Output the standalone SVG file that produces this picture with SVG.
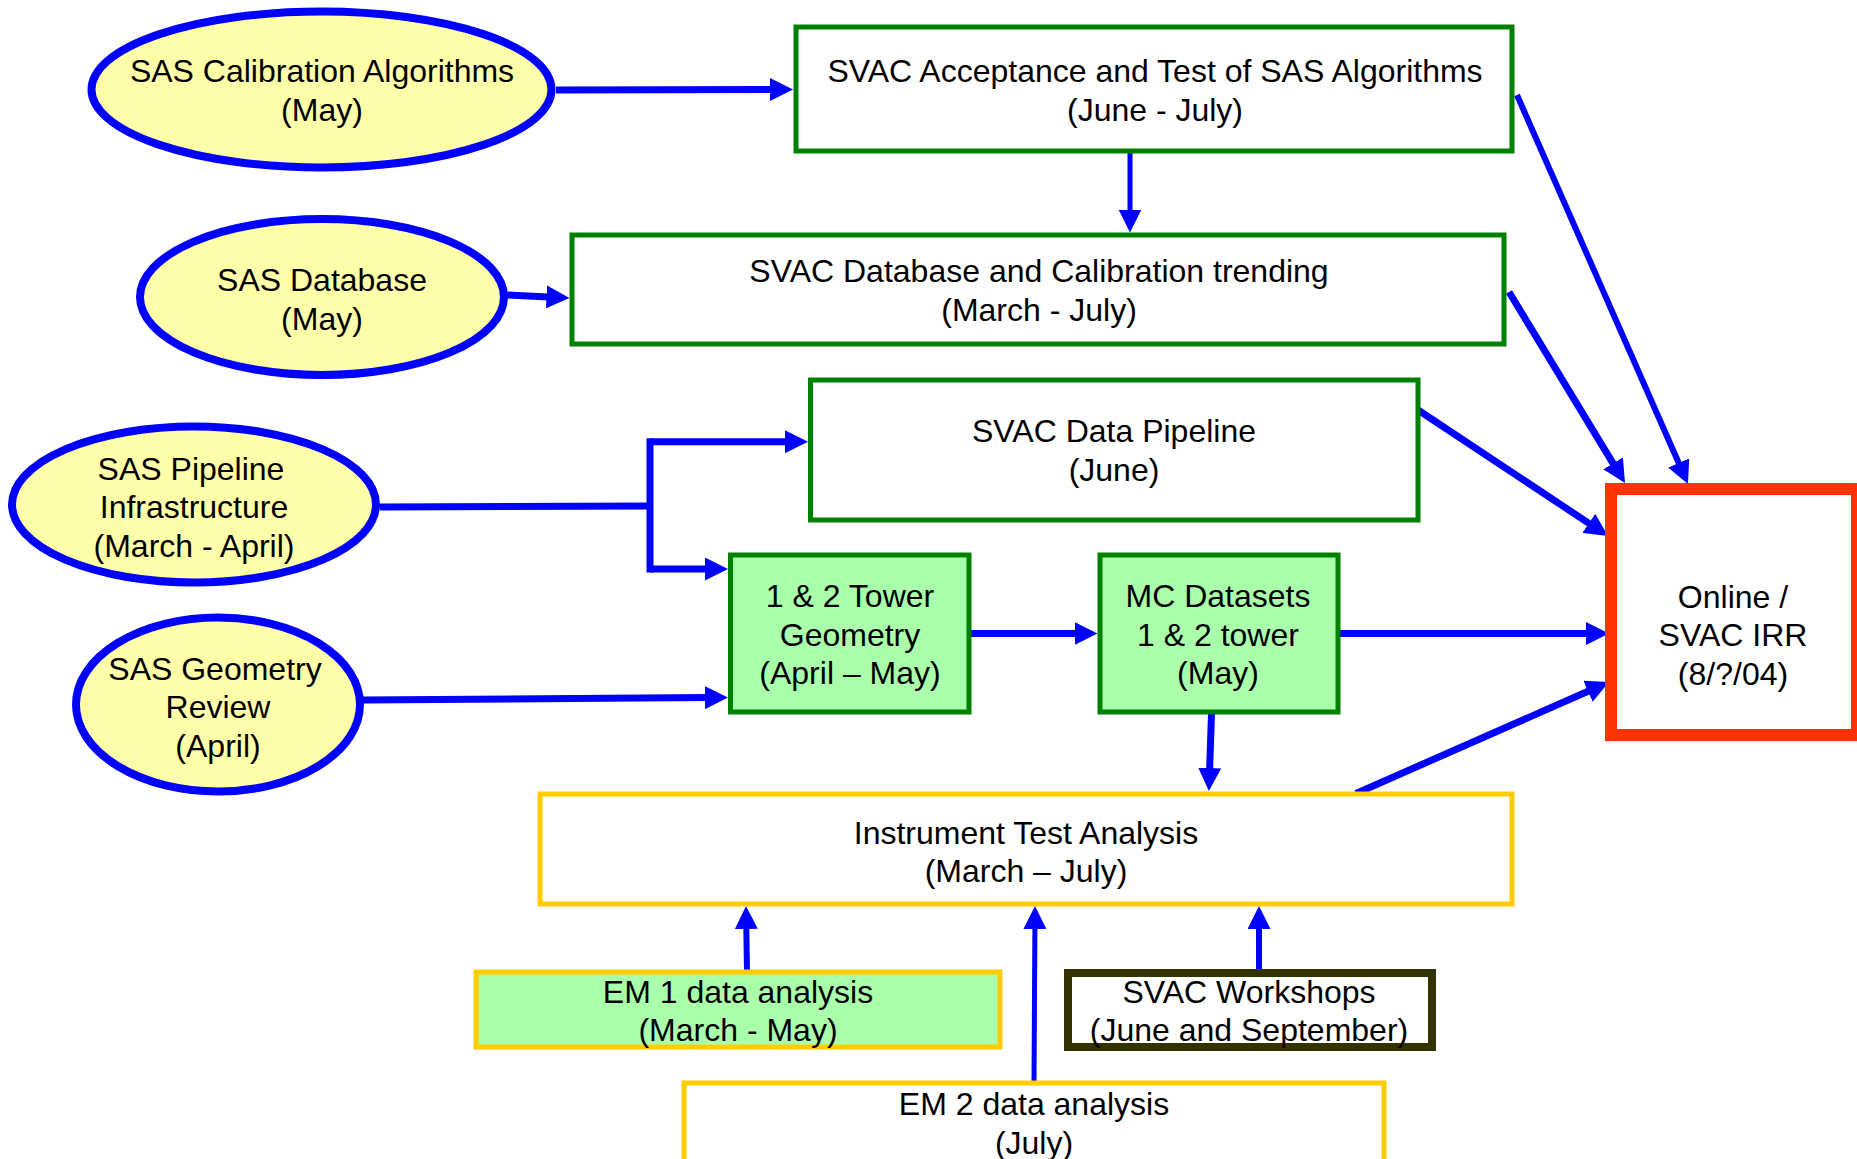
<svg xmlns="http://www.w3.org/2000/svg" width="1857" height="1159" viewBox="0 0 1857 1159">
<defs>
<style>
text{font-family:"Liberation Sans",Arial,sans-serif;font-size:32px;fill:#000;text-anchor:middle}
.ell{fill:#FFFFAA;stroke:#0000FF;stroke-width:8}
.g{fill:#FFFFFF;stroke:#008000;stroke-width:5}
.gf{fill:#AAFFAA;stroke:#008000;stroke-width:5}
.y{fill:#FFFFFF;stroke:#FFCC00;stroke-width:5}
.yf{fill:#AAFFAA;stroke:#FFCC00;stroke-width:5}
.dk{fill:#FFFFFF;stroke:#333300;stroke-width:8}
.red{fill:#FFFFFF;stroke:#FF3300;stroke-width:12}
.c{fill:none;stroke:#0000FF;stroke-width:7}
.t{stroke-width:5}
.m{stroke-width:6}
</style>
<marker id="ah" markerUnits="userSpaceOnUse" markerWidth="23" markerHeight="23" refX="2" refY="11.5" orient="auto">
<path d="M0,0 L23,11.5 L0,23 z" fill="#0000FF"/>
</marker>
</defs>
<rect width="1857" height="1159" fill="#FFFFFF"/>

<g id="connectors">
<path class="c" d="M556 90 L772 89.5" marker-end="url(#ah)"/>
<path class="c t" d="M1130 153 L1130 211.5" marker-end="url(#ah)"/>
<path class="c" d="M507 295 L548.5 297" marker-end="url(#ah)"/>
<path class="c" d="M380 507 L650 506"/>
<path class="c" d="M650 441.7 L650 569" stroke-linecap="square"/>
<path class="c" d="M650 441.7 L787 441.7" marker-end="url(#ah)"/>
<path class="c" d="M650 569 L707 569" marker-end="url(#ah)"/>
<path class="c" d="M363 700 L707 697.6" marker-end="url(#ah)"/>
<path class="c" d="M971 633.5 L1076.5 633.5" marker-end="url(#ah)"/>
<path class="c" d="M1338 633.5 L1588 633.5" marker-end="url(#ah)"/>
<path class="c" d="M1211.5 714 L1209.6 770" marker-end="url(#ah)"/>
<path class="c" d="M1356 793.5 L1589.8 690.5" marker-end="url(#ah)"/>
<path class="c" d="M1418 410 L1590.5 524.4" marker-end="url(#ah)"/>
<path class="c" d="M1509 292 L1614.1 465.1" marker-end="url(#ah)"/>
<path class="c m" d="M1517 95 L1679.5 464.8" marker-end="url(#ah)"/>
<path class="c m" d="M747 972 L746.3 927" marker-end="url(#ah)"/>
<path class="c t" d="M1034 1083 L1034.9 927" marker-end="url(#ah)"/>
<path class="c m" d="M1259 972 L1259 927" marker-end="url(#ah)"/>
</g>

<g id="sas-calibration">
<ellipse class="ell" cx="321.5" cy="89.5" rx="230" ry="78"/>
<text x="322" y="82">SAS Calibration Algorithms</text>
<text x="322" y="121">(May)</text>
</g>
<g id="sas-database">
<ellipse class="ell" cx="322" cy="297" rx="182" ry="78"/>
<text x="322" y="290.5">SAS Database</text>
<text x="322" y="329.5">(May)</text>
</g>
<g id="sas-pipeline">
<ellipse class="ell" cx="194" cy="504.5" rx="182" ry="78"/>
<text x="191" y="480">SAS Pipeline</text>
<text x="194" y="518">Infrastructure</text>
<text x="194" y="557">(March - April)</text>
</g>
<g id="sas-geometry">
<ellipse class="ell" cx="218" cy="704.5" rx="142" ry="87"/>
<text x="215" y="680">SAS Geometry</text>
<text x="218" y="718">Review</text>
<text x="218" y="757">(April)</text>
</g>

<g id="svac-acceptance">
<rect class="g" x="796" y="27" width="716" height="124"/>
<text x="1155" y="82">SVAC Acceptance and Test of SAS Algorithms</text>
<text x="1155" y="121">(June - July)</text>
</g>
<g id="svac-database">
<rect class="g" x="572" y="235" width="932" height="109"/>
<text x="1039" y="282">SVAC Database and Calibration trending</text>
<text x="1039" y="321">(March - July)</text>
</g>
<g id="svac-pipeline">
<rect class="g" x="810.5" y="380" width="607.5" height="140"/>
<text x="1114" y="442">SVAC Data Pipeline</text>
<text x="1114" y="481">(June)</text>
</g>
<g id="tower-geometry">
<rect class="gf" x="730.5" y="555" width="238.5" height="157"/>
<text x="850" y="607">1 &amp; 2 Tower</text>
<text x="850" y="646">Geometry</text>
<text x="850" y="684">(April – May)</text>
</g>
<g id="mc-datasets">
<rect class="gf" x="1100" y="555" width="238" height="157"/>
<text x="1218" y="607">MC Datasets</text>
<text x="1218" y="646">1 &amp; 2 tower</text>
<text x="1218" y="684">(May)</text>
</g>
<g id="online-irr">
<rect class="red" x="1611" y="489" width="246" height="246"/>
<text x="1733" y="608">Online /</text>
<text x="1733" y="646">SVAC IRR</text>
<text x="1733" y="685">(8/?/04)</text>
</g>
<g id="instrument-test">
<rect class="y" x="540" y="794" width="972" height="110"/>
<text x="1026" y="843.5">Instrument Test Analysis</text>
<text x="1026" y="881.5">(March – July)</text>
</g>
<g id="em1">
<rect class="yf" x="476" y="972" width="524" height="75"/>
<text x="738" y="1003">EM 1 data analysis</text>
<text x="738" y="1041">(March - May)</text>
</g>
<g id="svac-workshops">
<rect class="dk" x="1068" y="973" width="364" height="74"/>
<text x="1249" y="1003">SVAC Workshops</text>
<text x="1249" y="1041">(June and September)</text>
</g>
<g id="em2">
<rect class="y" x="684" y="1083" width="700" height="110"/>
<text x="1034" y="1115">EM 2 data analysis</text>
<text x="1034" y="1154">(July)</text>
</g>
</svg>
